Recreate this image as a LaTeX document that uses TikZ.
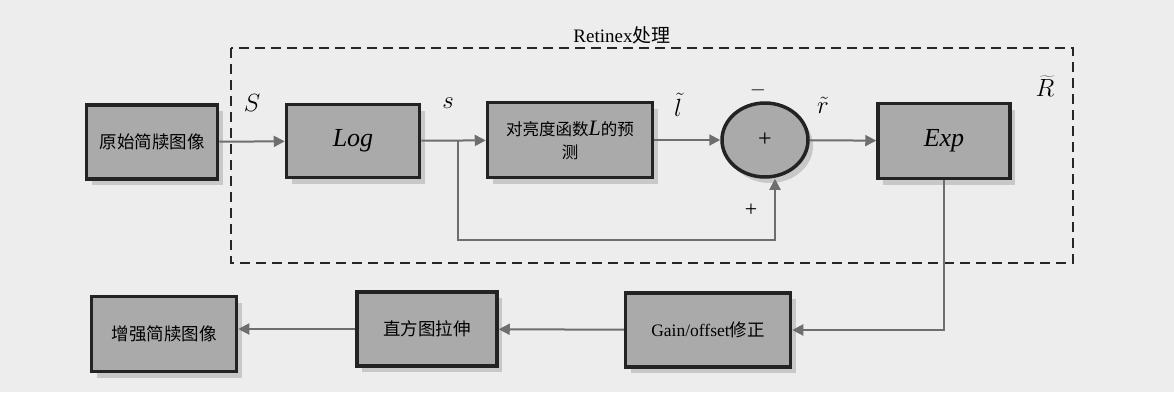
\documentclass[tikz,border=0pt]{standalone}
\usepackage{fontspec}
\setmainfont{Liberation Serif}
\newfontfamily\cjk{Noto Sans CJK SC}
\usetikzlibrary{arrows.meta,shadows,shapes.geometric}
\definecolor{bg}{RGB}{237,237,237}
\definecolor{boxfill}{RGB}{170,170,170}
\definecolor{boxline}{RGB}{35,35,35}
\definecolor{shade}{RGB}{200,200,200}
\definecolor{arrowc}{RGB}{110,110,110}
\tikzset{
  blk/.style={draw=boxline, line width=3.5pt, fill=boxfill, rectangle,
    drop shadow={fill=shade, opacity=1, shadow xshift=5pt, shadow yshift=-6pt},
    inner sep=2pt, font=\fontsize{17.5}{21}\selectfont},
  arr/.style={draw=arrowc, line width=2pt, -{Triangle[length=11pt,width=11pt]}},
  lbl/.style={font=\fontsize{24}{26}\selectfont, inner sep=0pt},
}
\begin{document}
\begin{tikzpicture}[x=1pt,y=-1pt]
\fill[bg] (0,0) rectangle (1174,392);
\useasboundingbox (0,0) rectangle (1174,392);
% dashed region
\draw[black!85, line width=1.3pt, dash pattern=on 10pt off 6pt] (231,48) rectangle (1073,263);
\node[font=\fontsize{19}{21}\selectfont, anchor=base] (title) at (622,42) {Retinex{\cjk 处理}};
% blocks
\node[blk, minimum width=131pt, minimum height=74pt] (src) at (152,142) {\cjk 原始简牍图像};
\node[blk, minimum width=133pt, minimum height=73pt, font=\fontsize{26}{28}\selectfont\itshape] (log) at (353,141) {Log};
\node[blk, minimum width=165pt, minimum height=75pt, align=center, font=\fontsize{16.5}{21}\selectfont] (est) at (570,140) {{\cjk 对亮度函数}\textit{\fontsize{22}{22}\selectfont L}{\cjk 的预}\\[2pt]{\cjk 测}};
\node[blk, ellipse, minimum width=86pt, minimum height=74pt, font=\fontsize{24}{26}\selectfont] (sum) at (765,140) {+};
\node[blk, minimum width=132pt, minimum height=75pt, font=\fontsize{26}{28}\selectfont\itshape] (exp) at (944,141) {Exp};
\node[blk, minimum width=165pt, minimum height=74pt] (gain) at (708,330) {Gain/offset{\cjk 修正}};
\node[blk, minimum width=140pt, minimum height=74pt] (hist) at (427,329) {\cjk 直方图拉伸};
\node[blk, minimum width=145pt, minimum height=75pt] (out) at (164,334) {\cjk 增强简牍图像};
% connectors
\coordinate (sp) at (458,141);
\coordinate (fb) at (458,240);
\draw[arr] (src) -- (log);
\draw[arr] (log) -- (est);
\draw[arr] (est) -- (sum);
\draw[arr] (sum) -- (exp);
\draw[arr] (sp) -- (fb) -| ([xshift=10pt]sum.south);
\draw[arr] (exp.south) |- (gain.east);
\draw[arr] (gain) -- (hist);
\draw[arr] (hist.west) -- (hist.west -| out.east);
% labels
\node[lbl] (lS) at (252,103) {$S$};
\node[lbl] (ls) at (448,103) {$s$};
\node[lbl] (ll) at (678,105) {$\tilde{l}$};
\node[lbl] (lr) at (823,105) {$\tilde{r}$};
\node[lbl] (lR) at (1045,86) {$\widetilde{R}$};
\node[font=\fontsize{22}{22}\selectfont, inner sep=0pt] (lm) at (758,90) {$-$};
\node[font=\fontsize{22}{22}\selectfont, inner sep=0pt] (lp) at (751,210) {+};
\end{tikzpicture}
\end{document}
